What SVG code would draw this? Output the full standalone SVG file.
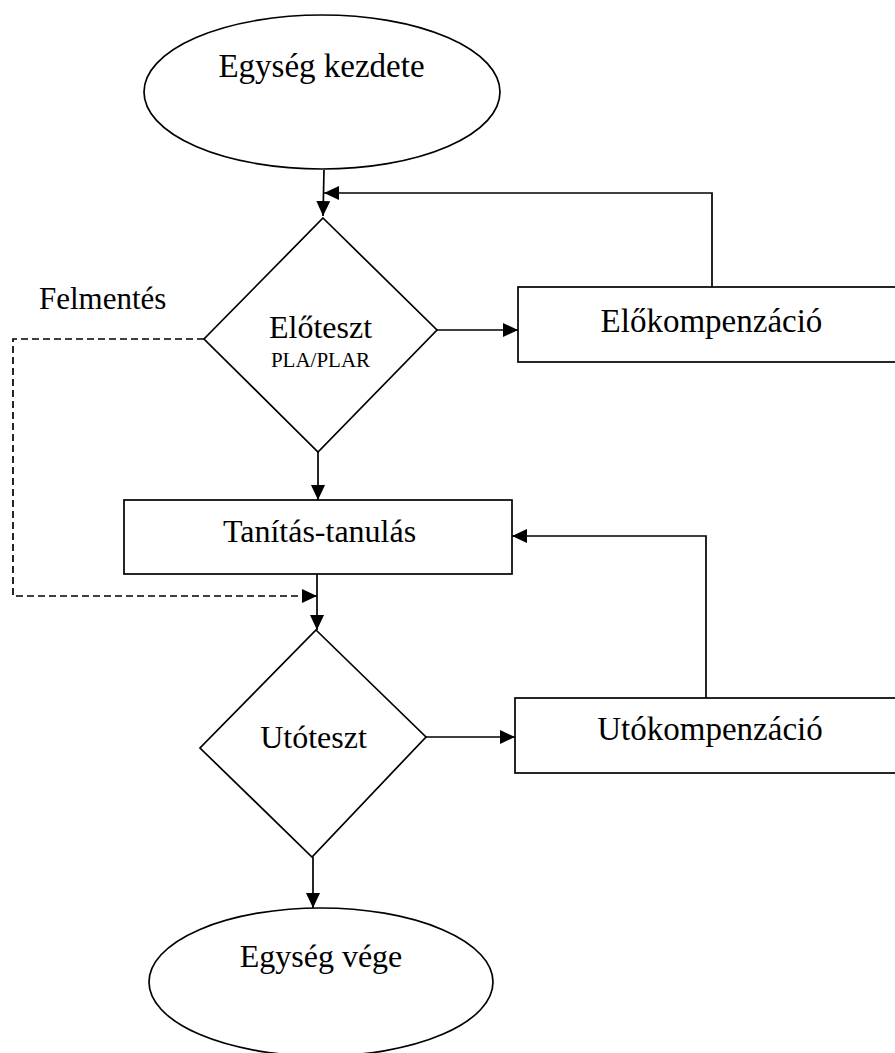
<svg xmlns="http://www.w3.org/2000/svg" width="895" height="1053" viewBox="0 0 895 1053">
<style>
.shape{fill:#fff;stroke:#000;stroke-width:1.7}
.line{fill:none;stroke:#000;stroke-width:1.7}
.dash{fill:none;stroke:#000;stroke-width:1.7;stroke-dasharray:7 4}
text{font-family:"Liberation Serif","Times New Roman",serif;fill:#000;text-anchor:middle}
</style>
<defs>
<marker id="arr" markerUnits="userSpaceOnUse" markerWidth="16" markerHeight="14" refX="15" refY="7" orient="auto">
<path d="M0,0 L15,7 L0,14 z" fill="#000"/>
</marker>
</defs>
<rect width="895" height="1053" fill="#fff"/>
<g id="connectors">
<line class="line" x1="324" y1="170" x2="323" y2="216" marker-end="url(#arr)"/>
<polyline class="line" points="712,287 712,193 324,193" marker-end="url(#arr)"/>
<line class="line" x1="437" y1="330" x2="518" y2="330" marker-end="url(#arr)"/>
<polyline class="dash" points="204,339 13,339 13,596 317,596" marker-end="url(#arr)"/>
<line class="line" x1="318" y1="452" x2="318" y2="500" marker-end="url(#arr)"/>
<line class="line" x1="317" y1="574" x2="317" y2="630" marker-end="url(#arr)"/>
<polyline class="line" points="706,698 706,536 512,536" marker-end="url(#arr)"/>
<line class="line" x1="426" y1="737" x2="515" y2="737" marker-end="url(#arr)"/>
<line class="line" x1="313" y1="857" x2="313" y2="908" marker-end="url(#arr)"/>
</g>
<g id="start">
<ellipse class="shape" cx="322" cy="92" rx="178" ry="77"/>
<text x="321.5" y="77" font-size="33">Egység kezdete</text>
</g>
<g id="eloteszt">
<polygon class="shape" points="323,218 437,330 318,452 204,339"/>
<text x="320.5" y="338" font-size="32">Előteszt</text>
<text x="320.5" y="367" font-size="21">PLA/PLAR</text>
</g>
<g id="elokompenzacio">
<rect class="shape" x="518" y="287" width="400" height="75"/>
<text x="711.5" y="332" font-size="33">Előkompenzáció</text>
</g>
<g id="felmentes">
<text x="39" y="309" font-size="31" style="text-anchor:start">Felmentés</text>
</g>
<g id="tanitas">
<rect class="shape" x="124" y="500" width="388" height="74"/>
<text x="319.5" y="542" font-size="32">Tanítás-tanulás</text>
</g>
<g id="utoteszt">
<polygon class="shape" points="316,630 426,737 312,857 200,748"/>
<text x="313.5" y="748" font-size="32">Utóteszt</text>
</g>
<g id="utokompenzacio">
<rect class="shape" x="515" y="698" width="400" height="75"/>
<text x="710" y="740" font-size="33">Utókompenzáció</text>
</g>
<g id="end">
<ellipse class="shape" cx="321" cy="982" rx="172" ry="74"/>
<text x="321" y="967" font-size="32">Egység vége</text>
</g>
</svg>
